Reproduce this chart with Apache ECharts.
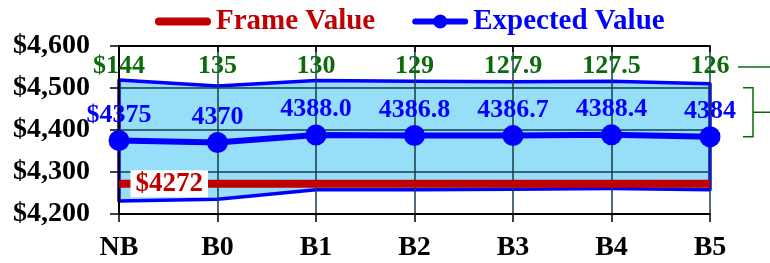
<!DOCTYPE html>
<html>
<head>
<meta charset="utf-8">
<script src="https://cdn.jsdelivr.net/npm/echarts@6/dist/echarts.min.js"></script>
<style>
    html, body { margin: 0; padding: 0; background: #fff; }
    #main { width: 770px; height: 263px; }
</style>
</head>
<body>
<div id="main"></div>
<script>
var categories = ['NB', 'B0', 'B1', 'B2', 'B3', 'B4', 'B5'];
var expected = [4375, 4370, 4388, 4386.8, 4386.7, 4388.4, 4384];
var expectedLabels = ['$4375', '4370', '4388.0', '4386.8', '4386.7', '4388.4', '4384'];
var spreadLabels = ['$144', '135', '130', '129', '127.9', '127.5', '126'];
var bandHigh = [4519, 4505, 4518, 4515.8, 4514.6, 4515.9, 4510];
var bandLow = [4231, 4235, 4258, 4257.8, 4258.8, 4260.9, 4258];
var frame = [4272, 4272, 4272, 4272, 4272, 4272, 4272];
var frameLabel = '$4272';

var FONT = 'Liberation Serif';
var BLUE = '#0000ff';
var RED = '#c00000';
var GREEN = '#0b6b0b';
var GRIDC = '#123c4a';

var myChart = echarts.init(document.getElementById('main'));

var option = {
    backgroundColor: '#ffffff',
    animation: false,
    textStyle: { fontFamily: FONT, fontWeight: 'bold' },
    grid: { left: 119, right: 60, top: 46, bottom: 49 },
    legend: {
        left: 150,
        top: 2,
        itemWidth: 56,
        itemHeight: 16,
        itemGap: 37,
        textStyle: { fontFamily: FONT, fontWeight: 'bold', fontSize: 29 },
        data: [
            {
                name: 'Frame Value',
                icon: 'path://M4,0H53A4,4,0,0,1,53,8H4A4,4,0,0,1,4,0Z',
                textStyle: { color: RED }
            },
            {
                name: 'Expected Value',
                // thick line with a dot in the middle
                icon: 'path://M3,5H21.68A7,7,0,0,1,34.32,5H53A3,3,0,0,1,53,11H34.32A7,7,0,0,1,21.68,11H3A3,3,0,0,1,3,5Z',
                textStyle: { color: BLUE }
            }
        ]
    },
    xAxis: [{
        type: 'category',
        data: categories,
        boundaryGap: false,
        z: 2,
        axisLine: { lineStyle: { color: '#000', width: 2 } },
        axisTick: { show: true, length: 8, lineStyle: { color: '#000', width: 1.5 } },
        axisLabel: { color: '#000', fontSize: 28, fontFamily: FONT, fontWeight: 'bold', margin: 20 },
        splitLine: { show: true, lineStyle: { color: GRIDC, width: 1.5 } }
    }, {
        type: 'category',
        data: spreadLabels,
        position: 'top',
        boundaryGap: false,
        z: 2,
        axisLine: { lineStyle: { color: '#000', width: 2 } },
        axisTick: { show: true, inside: true, length: 6, lineStyle: { color: '#000', width: 1.5 } },
        axisLabel: { inside: true, color: GREEN, fontSize: 26, fontFamily: FONT, fontWeight: 'bold', margin: 7 },
        splitLine: { show: false }
    }],
    yAxis: {
        type: 'value',
        min: 4200,
        max: 4600,
        interval: 100,
        z: 2,
        axisLine: { show: true, lineStyle: { color: '#000', width: 2 } },
        axisTick: { show: true, length: 9, lineStyle: { color: '#000', width: 1.5 } },
        axisLabel: {
            color: '#000', fontSize: 28, fontFamily: FONT, fontWeight: 'bold', margin: 29,
            formatter: function (v) { return '$' + echarts.format.addCommas(v); }
        },
        splitLine: { show: true, lineStyle: { color: GRIDC, width: 1.5 } }
    },
    series: [
        {
            // band between low and high
            name: 'band',
            type: 'custom',
            z: 1,
            silent: true,
            data: [[0, bandHigh[0]]],
            encode: { x: 0, y: 1 },
            renderItem: function (params, api) {
                var pts = [];
                var i;
                for (i = 0; i < categories.length; i++) {
                    pts.push(api.coord([i, bandHigh[i]]));
                }
                for (i = categories.length - 1; i >= 0; i--) {
                    pts.push(api.coord([i, bandLow[i]]));
                }
                return {
                    type: 'polygon',
                    shape: { points: pts },
                    style: { fill: '#97dff8', stroke: BLUE, lineWidth: 3.5, lineJoin: 'round' }
                };
            }
        },
        {
            name: 'Frame Value',
            type: 'line',
            z: 4,
            symbol: 'circle',
            symbolSize: 1,
            data: frame.map(function (v, i) {
                if (i === 0) {
                    return {
                        value: v,
                        label: {
                            show: true,
                            position: 'right',
                            distance: 11,
                            formatter: frameLabel,
                            color: RED,
                            fontSize: 27,
                            fontFamily: FONT,
                            fontWeight: 'bold',
                            backgroundColor: '#fff',
                            padding: [0, 5]
                        }
                    };
                }
                return v;
            }),
            lineStyle: { color: RED, width: 8 },
            itemStyle: { color: RED }
        },
        {
            name: 'Expected Value',
            type: 'line',
            z: 5,
            symbol: 'circle',
            symbolSize: 21,
            data: expected,
            lineStyle: { color: BLUE, width: 6 },
            itemStyle: { color: BLUE },
            label: {
                show: true,
                position: 'top',
                distance: 2,
                color: BLUE,
                fontSize: 26,
                fontFamily: FONT,
                fontWeight: 'bold',
                formatter: function (p) { return expectedLabels[p.dataIndex]; }
            }
        }
    ]
};

myChart.setOption(option);

// bracket annotation at the right of the last category
var last = categories.length - 1;
var pTop = myChart.convertToPixel({ xAxisIndex: 0, yAxisIndex: 0 }, [last, bandHigh[last]]);
var pMid = myChart.convertToPixel({ xAxisIndex: 0, yAxisIndex: 0 }, [last, expected[last]]);
var bx = pTop[0] + 43;
var bTop = pTop[1] + 4;
var bBot = pMid[1];
myChart.setOption({
    graphic: [
        {
            type: 'line',
            shape: { x1: pTop[0] + 28, y1: 67, x2: 770, y2: 67 },
            style: { stroke: GREEN, lineWidth: 1.5 }
        },
        {
            type: 'polyline',
            shape: { points: [[bx - 10, bTop], [bx, bTop], [bx, bBot], [bx - 10, bBot]] },
            style: { stroke: GREEN, lineWidth: 1.5, fill: null }
        },
        {
            type: 'line',
            shape: { x1: bx, y1: (bTop + bBot) / 2, x2: 770, y2: (bTop + bBot) / 2 },
            style: { stroke: GREEN, lineWidth: 1.5 }
        }
    ]
});

window.addEventListener('resize', function () {
    myChart.resize();
});
</script>
</body>
</html>
